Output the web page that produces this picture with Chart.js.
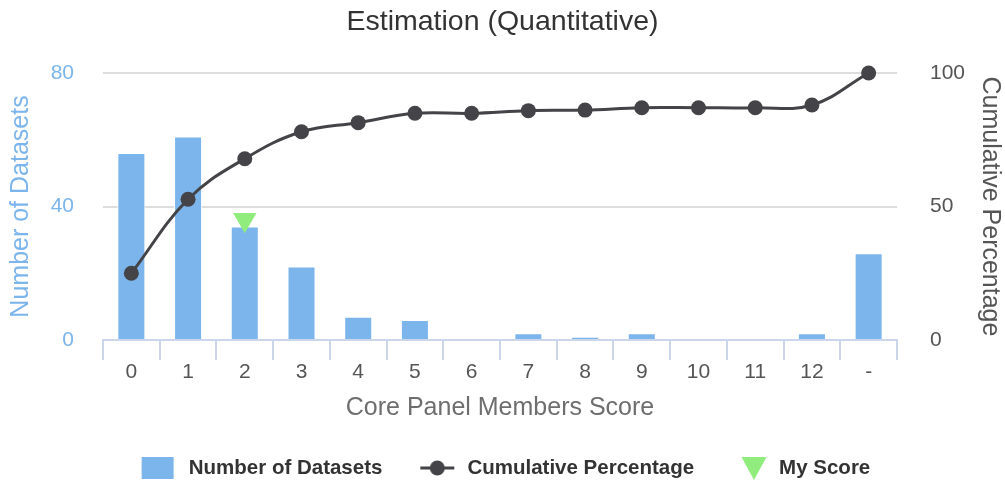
<!DOCTYPE html>
<html>
<head>
<meta charset="utf-8">
<script src="https://cdn.jsdelivr.net/npm/chart.js@4/dist/chart.umd.min.js"></script>
<style>
html,body{margin:0;padding:0;background:#ffffff;}
#wrap{width:1005px;height:481px;}
</style>
</head>
<body>
<div id="wrap"><canvas id="c" width="1005" height="481"></canvas></div>
<script>
// ---- data ----
const categories = ['0','1','2','3','4','5','6','7','8','9','10','11','12','-'];
const datasetCounts = [56, 61, 34, 22, 7, 6, 0, 2, 1, 2, 0, 0, 2, 26];
const cumulativePercent = [25, 52.7, 67.9, 78, 81.4, 84.9, 84.9, 85.9, 86.1, 87, 87, 87, 88, 100];
const myScoreCategory = '2';
const myScoreValue = 36;
const leftTicks = [0, 40, 80];
const rightTicks = [0, 50, 100];

const titleText = 'Estimation (Quantitative)';
const xTitle = 'Core Panel Members Score';
const leftTitle = 'Number of Datasets';
const rightTitle = 'Cumulative Percentage';
const seriesNames = ['Number of Datasets', 'Cumulative Percentage', 'My Score'];

// ---- styles ----
const BLUE = '#7cb5ec', DARK = '#434348', GREEN = '#90ed7d';
Chart.defaults.font.family = '"Liberation Sans", Arial, Helvetica, sans-serif';

function symbolCanvas(kind, dx) {
  const c = document.createElement('canvas');
  c.width = 90; c.height = 30;
  const g = c.getContext('2d');
  const cx = 45 + dx, cy = 15;
  if (kind === 'box') {
    g.fillStyle = BLUE;
    g.fillRect(cx - 16, cy - 11, 32, 22);
  } else if (kind === 'line') {
    g.strokeStyle = DARK; g.lineWidth = 3;
    g.beginPath(); g.moveTo(cx - 17, cy); g.lineTo(cx + 17, cy); g.stroke();
    g.fillStyle = DARK;
    g.beginPath(); g.arc(cx, cy, 7.5, 0, Math.PI * 2); g.fill();
  } else {
    g.fillStyle = GREEN;
    g.beginPath(); g.moveTo(cx - 12.5, cy - 11); g.lineTo(cx + 12.5, cy - 11); g.lineTo(cx, cy + 12); g.closePath(); g.fill();
  }
  return c;
}
const legendSymbols = [symbolCanvas('box', 1), symbolCanvas('line', 2), symbolCanvas('tri', 7)];

const myScoreData = categories.map(c => (c === myScoreCategory ? myScoreValue : null));

new Chart(document.getElementById('c'), {
  data: {
    labels: categories,
    datasets: [
      {
        type: 'bar', label: seriesNames[0], data: datasetCounts, yAxisID: 'y',
        backgroundColor: BLUE, borderColor: '#ffffff', borderWidth: 1,
        barPercentage: 0.494, categoryPercentage: 1, order: 3
      },
      {
        type: 'line', label: seriesNames[1], data: cumulativePercent, yAxisID: 'y1',
        borderColor: DARK, borderWidth: 3, tension: 0.4,
        pointRadius: 7.5, pointBackgroundColor: DARK, pointBorderWidth: 0,
        fill: false, clip: false, order: 2
      },
      {
        type: 'line', label: seriesNames[2], data: myScoreData, yAxisID: 'y',
        showLine: false, pointStyle: 'triangle', pointRotation: 180, pointRadius: 13.5,
        pointBackgroundColor: GREEN, pointBorderWidth: 0, clip: false, order: 1
      }
    ]
  },
  options: {
    responsive: false,
    animation: false,
    events: [],
    layout: { padding: { left: 0, right: 0, top: 0, bottom: -7.25 } },
    plugins: {
      tooltip: { enabled: false },
      title: {
        display: true, text: titleText, color: '#333333',
        font: { size: 28.5, weight: 'normal' },
        padding: { top: 4.9, bottom: 33.9 }
      },
      legend: {
        position: 'bottom',
        labels: {
          usePointStyle: true,
          pointStyleWidth: 43.75,
          padding: 31,
          color: '#333333',
          font: { size: 20.5, weight: 'bold' },
          generateLabels: () => seriesNames.map((name, i) => ({
            text: name, pointStyle: legendSymbols[i], fillStyle: 'transparent',
            strokeStyle: 'transparent', lineWidth: 0, hidden: false, datasetIndex: i,
            fontColor: '#333333'
          }))
        }
      }
    },
    scales: {
      x: {
        type: 'category',
        offset: true,
        afterFit: s => { s.height = 86.75; },
        grid: { offset: true, drawOnChartArea: false, drawTicks: true, tickLength: 20, color: '#ccd6eb', lineWidth: 2 },
        border: { display: true, color: '#ccd6eb', width: 2 },
        ticks: { color: '#555555', font: { size: 21 }, padding: 0, maxRotation: 0, autoSkip: false },
        title: { display: true, text: xTitle, color: '#6e6e6e', font: { size: 25 }, padding: { top: 0, bottom: 3.75 } }
      },
      y: {
        position: 'left', min: 0, max: 80,
        afterFit: s => { s.width = 103; },
        afterBuildTicks: s => { s.ticks = leftTicks.map(v => ({ value: v })); },
        grid: { color: '#dddddd', lineWidth: 2, drawTicks: false },
        border: { display: false },
        ticks: { color: BLUE, font: { size: 21 }, padding: 29 },
        title: { display: true, text: leftTitle, color: BLUE, font: { size: 25 }, padding: { top: 6, bottom: 0 } }
      },
      y1: {
        position: 'right', min: 0, max: 100,
        afterFit: s => { s.width = 108; },
        afterBuildTicks: s => { s.ticks = rightTicks.map(v => ({ value: v })); },
        grid: { drawOnChartArea: false, drawTicks: false },
        border: { display: false },
        ticks: { color: '#555555', font: { size: 21 }, padding: 33 },
        title: { display: true, text: rightTitle, color: '#555555', font: { size: 25 }, padding: { top: 0, bottom: 0 } }
      }
    }
  }
});
</script>
</body>
</html>
